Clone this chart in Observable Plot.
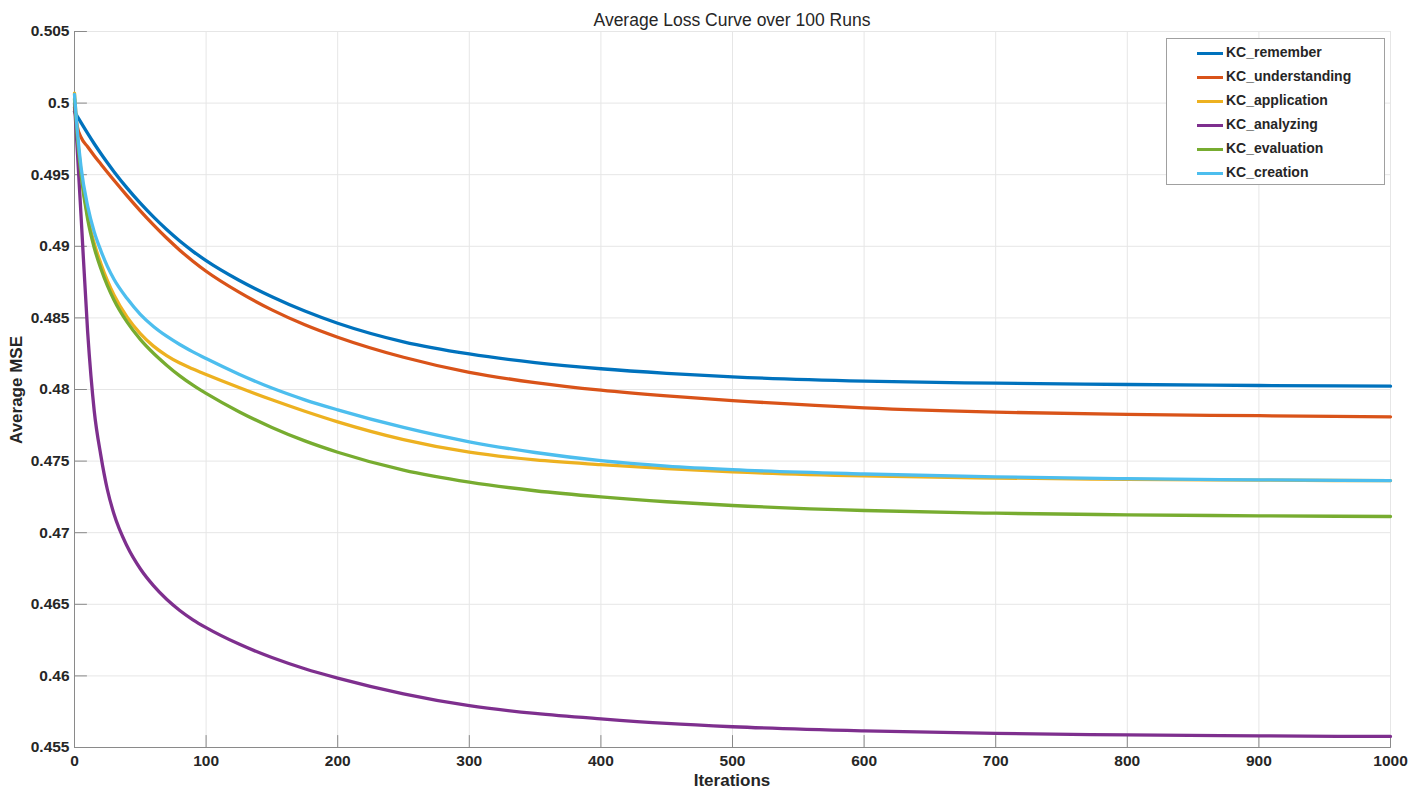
<!DOCTYPE html>
<html>
<head>
<meta charset="utf-8">
<script src="https://cdn.jsdelivr.net/npm/d3@7"></script>
<script src="https://cdn.jsdelivr.net/npm/@observablehq/plot@0.6"></script>
<style>
  body { margin: 0; background: #fff; font-family: Helvetica, Arial, "Liberation Sans", sans-serif; }
  #wrap { position: relative; width: 1411px; height: 789px; }
  #title { position: absolute; left: 74px; width: 1316px; top: 10px; text-align: center; font-size: 17.5px; color: #262626; }
  #legend { position: absolute; left: 1166px; top: 38px; width: 217px; height: 145px; border: 1px solid #a0a0a0; background: #fff; }
  .row { position: absolute; left: 0; height: 20px; }
  .sw { position: absolute; left: 30px; width: 26px; height: 3px; }
  .lb { position: absolute; left: 59px; font-weight: bold; font-size: 14px; color: #262626; white-space: nowrap; }
  #xlabel { position: absolute; left: 74px; width: 1316px; top: 771px; text-align: center; font-weight: bold; font-size: 17px; color: #262626; }
  #ylabel { position: absolute; left: 17px; top: 390px; transform: translate(-50%, -50%) rotate(-90deg); font-weight: bold; font-size: 17px; color: #262626; white-space: nowrap; }
</style>
</head>
<body>
<div id="wrap">
  <div id="chart"></div>
  <div id="title"></div>
  <div id="legend"></div>
  <div id="xlabel"></div>
  <div id="ylabel"></div>
</div>
<script>
const titleText = "Average Loss Curve over 100 Runs";
const xLabel = "Iterations";
const yLabel = "Average MSE";
const seriesNames = ["KC_remember", "KC_understanding", "KC_application", "KC_analyzing", "KC_evaluation", "KC_creation"];
const seriesColors = ["#0072BD", "#D95319", "#EDB120", "#7E2F8E", "#77AC30", "#4DBEEE"];
const xTicks = [0, 100, 200, 300, 400, 500, 600, 700, 800, 900, 1000];
const yTicks = [0.455, 0.46, 0.465, 0.47, 0.475, 0.48, 0.485, 0.49, 0.495, 0.5, 0.505];

const iterations = [0, 2, 5, 10, 15, 20, 25, 30, 40, 50, 60, 70, 80, 90, 100, 125, 150, 175, 200, 250, 300, 350, 400, 450, 500, 600, 700, 800, 900, 1000];

const remember = [0.4994, 0.4991, 0.49863, 0.49788, 0.49716, 0.49648, 0.49583, 0.49521, 0.49406, 0.49301, 0.49205, 0.49117, 0.49037, 0.48965, 0.48900, 0.48763, 0.48648, 0.48548, 0.48463, 0.48333, 0.48248, 0.48188, 0.48145, 0.48113, 0.48088, 0.48058, 0.48044, 0.48035, 0.48028, 0.48023];
const understanding = [0.4997, 0.4984, 0.4976, 0.49695, 0.49633, 0.49575, 0.49517, 0.49461, 0.49352, 0.49248, 0.49150, 0.49058, 0.48973, 0.48896, 0.48826, 0.48680, 0.48556, 0.48452, 0.48365, 0.48225, 0.48120, 0.48048, 0.47995, 0.47955, 0.47923, 0.47872, 0.47842, 0.47826, 0.47817, 0.47809];
const application = [0.5007, 0.4980, 0.4952, 0.4921, 0.4902, 0.4888, 0.4876, 0.4866, 0.48505, 0.48390, 0.48303, 0.48237, 0.48185, 0.48143, 0.48105, 0.48014, 0.47928, 0.47848, 0.47774, 0.47650, 0.47562, 0.47508, 0.47475, 0.47448, 0.47425, 0.47397, 0.47382, 0.47373, 0.47367, 0.47363];
const analyzing = [0.5000, 0.4969, 0.4921, 0.4840, 0.4785, 0.4754, 0.4730, 0.4713, 0.46905, 0.46748, 0.46630, 0.46535, 0.46457, 0.46392, 0.46337, 0.46222, 0.46128, 0.46050, 0.45985, 0.45875, 0.45792, 0.45738, 0.45700, 0.45668, 0.45645, 0.45616, 0.45598, 0.45588, 0.45581, 0.45577];
const evaluation = [0.5003, 0.4978, 0.4950, 0.4919, 0.4899, 0.48845, 0.48725, 0.48625, 0.48470, 0.48350, 0.48253, 0.48170, 0.48095, 0.48030, 0.47973, 0.47845, 0.47735, 0.47641, 0.47562, 0.47437, 0.47353, 0.47293, 0.47250, 0.47216, 0.47190, 0.47155, 0.47136, 0.47125, 0.47118, 0.47113];
const creation = [0.5006, 0.4982, 0.4955, 0.4928, 0.4910, 0.4897, 0.4886, 0.48770, 0.48635, 0.48525, 0.48440, 0.48372, 0.48314, 0.48263, 0.48216, 0.48107, 0.48010, 0.47928, 0.47858, 0.47735, 0.47635, 0.47560, 0.47503, 0.47465, 0.47440, 0.47410, 0.47390, 0.47377, 0.47369, 0.47364];

const seriesValues = [remember, understanding, application, analyzing, evaluation, creation];

const data = [];
seriesNames.forEach((name, i) => {
  iterations.forEach((it, j) => data.push({series: name, iter: it, value: seriesValues[i][j]}));
});

const textColor = "#262626";
const axisColor = "#8a8a8a";
const font = "Helvetica, Arial, 'Liberation Sans', sans-serif";
const tickShape = {draw(ctx, l) { ctx.moveTo(0, 0); ctx.lineTo(0, -l); }};

const chart = Plot.plot({
  width: 1411,
  height: 789,
  marginLeft: 74,
  marginRight: 21,
  marginTop: 31,
  marginBottom: 42,
  style: {fontFamily: font, background: "#fff", overflow: "visible"},
  x: {domain: [0, 1000], ticks: xTicks},
  y: {domain: [0.455, 0.505], ticks: yTicks},
  color: {domain: seriesNames, range: seriesColors},
  marks: [
    Plot.gridX(xTicks, {stroke: "#e6e6e6", strokeOpacity: 1}),
    Plot.gridY(yTicks, {stroke: "#e6e6e6", strokeOpacity: 1}),
    Plot.ruleX([0], {stroke: axisColor, strokeWidth: 1}),
    Plot.ruleY([0.455], {stroke: axisColor, strokeWidth: 1}),
    Plot.vector(xTicks, {x: d => d, y: 0.455, length: 12, rotate: 0, anchor: "start", stroke: axisColor, strokeWidth: 1, shape: tickShape}),
    Plot.vector(yTicks, {x: 0, y: d => d, length: 12, rotate: 90, anchor: "start", stroke: axisColor, strokeWidth: 1, shape: tickShape}),
    Plot.axisX(xTicks, {tickSize: 0, tickPadding: 7, fontSize: 15.5, fontWeight: "bold", fill: textColor, label: null, tickFormat: d => String(d)}),
    Plot.axisY(yTicks, {tickSize: 0, tickPadding: 5, fontSize: 15.5, fontWeight: "bold", fill: textColor, label: null, tickFormat: d => String(+d.toFixed(3))}),
    Plot.line(data, {x: "iter", y: "value", z: "series", stroke: "series", strokeWidth: 3.3, curve: "monotone-x"})
  ]
});
document.getElementById("chart").appendChild(chart);

document.getElementById("title").textContent = titleText;
document.getElementById("xlabel").textContent = xLabel;
document.getElementById("ylabel").textContent = yLabel;

const legend = document.getElementById("legend");
seriesNames.forEach((name, i) => {
  const row = document.createElement("div");
  row.className = "row";
  row.style.top = (4 + i * 24) + "px";
  row.style.width = "100%";
  const sw = document.createElement("div");
  sw.className = "sw";
  sw.style.background = seriesColors[i];
  sw.style.top = "9px";
  const lb = document.createElement("div");
  lb.className = "lb";
  lb.style.top = "1px";
  lb.textContent = name;
  row.appendChild(sw);
  row.appendChild(lb);
  legend.appendChild(row);
});
</script>
</body>
</html>
